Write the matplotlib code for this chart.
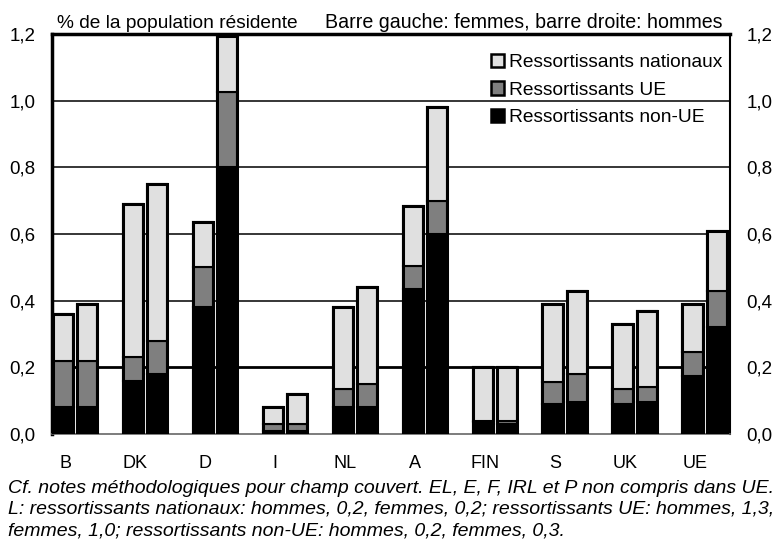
import matplotlib
matplotlib.use("Agg")
import matplotlib.pyplot as plt
import matplotlib.transforms as mtransforms
import numpy as np
from matplotlib.patches import Patch

plt.rcParams['font.family'] = ['Liberation Sans', 'DejaVu Sans']

countries = ["B", "DK", "D", "I", "NL", "A", "FIN", "S", "UK", "UE"]

# Women (left bar)
f_non_ue = [0.08, 0.16, 0.38, 0.01, 0.08, 0.435, 0.035, 0.09, 0.09, 0.175]
f_ue     = [0.14, 0.07, 0.12, 0.02, 0.055, 0.07, 0.005, 0.065, 0.045, 0.07]
f_nat    = [0.14, 0.46, 0.135, 0.05, 0.245, 0.18, 0.16, 0.235, 0.195, 0.145]
# Men (right bar)
m_non_ue = [0.08, 0.18, 0.80, 0.01, 0.08, 0.60, 0.03, 0.095, 0.095, 0.32]
m_ue     = [0.14, 0.10, 0.225, 0.02, 0.07, 0.10, 0.01, 0.085, 0.045, 0.11]
m_nat    = [0.17, 0.47, 0.17, 0.09, 0.29, 0.28, 0.16, 0.25, 0.23, 0.18]

yticks = [0.0, 0.2, 0.4, 0.6, 0.8, 1.0, 1.2]
ytick_labels = ["0,0", "0,2", "0,4", "0,6", "0,8", "1,0", "1,2"]

legend_labels = ["Ressortissants nationaux", "Ressortissants UE", "Ressortissants non-UE"]
header_left = "% de la population résidente"
header_right = "Barre gauche: femmes, barre droite: hommes"
footnote_lines = [
    "Cf. notes méthodologiques pour champ couvert. EL, E, F, IRL et P non compris dans UE.",
    "L: ressortissants nationaux: hommes, 0,2, femmes, 0,2; ressortissants UE: hommes, 1,3,",
    "femmes, 1,0; ressortissants non-UE: hommes, 0,2, femmes, 0,3.",
]

c_nat = "#e0e0e0"
c_ue = "#7f7f7f"
c_non = "#000000"

W, H = 782, 539
fig = plt.figure(figsize=(W / 100, H / 100), dpi=100)
ax = fig.add_axes([52 / W, 1 - 434 / H, 678 / W, 400 / H])

x = np.arange(len(countries))
w = 0.29
off = 0.175

# grid lines
for yv in yticks[1:-1]:
    ax.axhline(yv, color="black", lw=2.0 if abs(yv - 0.2) < 1e-9 else 1.1, zorder=0)

for sign, non, ue, nat in [(-1, f_non_ue, f_ue, f_nat), (1, m_non_ue, m_ue, m_nat)]:
    non = np.array(non); ue = np.array(ue); nat = np.array(nat)
    xp = x + sign * off
    ax.bar(xp, non, w, color=c_non, edgecolor="black", lw=1.5, zorder=2)
    ax.bar(xp, ue, w, bottom=non, color=c_ue, edgecolor="black", lw=1.5, zorder=2)
    ax.bar(xp, nat, w, bottom=non + ue, color=c_nat, edgecolor="black", lw=1.5, zorder=2)
    tot = non + ue + nat
    ax.bar(xp, tot, w, color="none", edgecolor="black", lw=2.2, zorder=3)

ax.set_xlim(-0.33, 9.36)
ax.set_ylim(0, 1.2)
ax.set_yticks(yticks)
ax.set_yticklabels(ytick_labels, fontsize=13.5)
ax.tick_params(axis="y", length=0, pad=12, labelright=True, right=False)
ax.set_xticks(x)
ax.set_xticklabels(countries, fontsize=13)
ax.tick_params(axis="x", length=0, pad=15)
shift = mtransforms.ScaledTranslation(-10 / 100, 0, fig.dpi_scale_trans)
for lab in ax.get_xticklabels():
    lab.set_transform(lab.get_transform() + shift)

for s in ["left", "top"]:
    ax.spines[s].set_linewidth(2.5)
ax.spines["right"].set_linewidth(1.5)
ax.spines["bottom"].set_linewidth(1.2)
ax.spines["bottom"].set_color("#666666")

handles = [Patch(facecolor=c, edgecolor="black", lw=1.8) for c in (c_nat, c_ue, c_non)]
leg = fig.legend(handles, legend_labels, loc="upper left",
                 bbox_to_anchor=(491 / W, 1 - 54 / H), bbox_transform=fig.transFigure,
                 frameon=False, fontsize=13.8, handlelength=0.7, handleheight=0.7,
                 handletextpad=0.25, labelspacing=0.52, borderaxespad=0.0, borderpad=0.0)

fig.text(57 / W, 1 - 28 / H, header_left, fontsize=13.8, va="baseline", ha="left")
fig.text(325 / W, 1 - 28 / H, header_right, fontsize=14.1, va="baseline", ha="left")
for i, line in enumerate(footnote_lines):
    fig.text(8 / W, 1 - (493 + 21 * i) / H, line, fontsize=14, style="italic",
             va="baseline", ha="left")

fig.savefig("out.png", dpi=100)
